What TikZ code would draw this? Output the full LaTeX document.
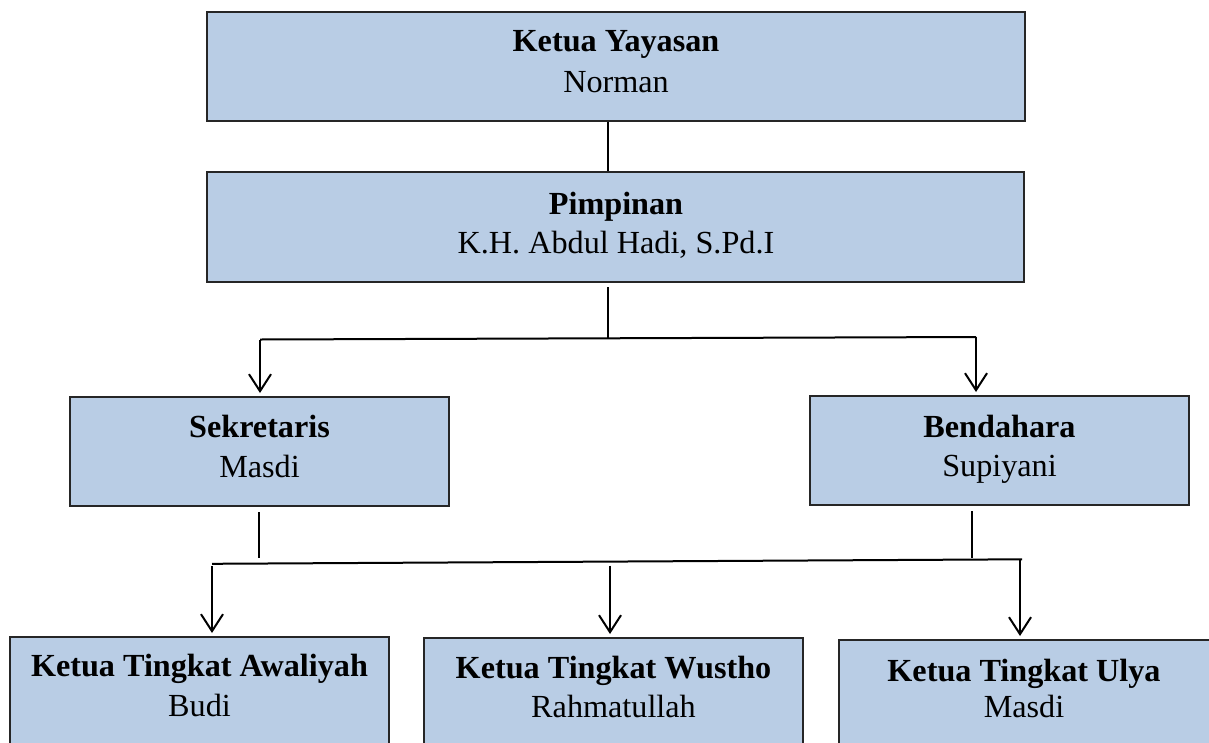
\documentclass[tikz,border=0pt]{standalone}
\usepackage{fontspec}
\setmainfont{Liberation Serif}
\usetikzlibrary{arrows.meta,calc}
\definecolor{boxfill}{HTML}{B9CDE5}
\definecolor{boxline}{HTML}{262626}
\tikzset{
  orgbox/.style={draw=boxline, fill=boxfill, line width=2pt, rectangle, inner sep=0pt,
    minimum width=379pt, minimum height=109pt},
  wide/.style={minimum width=818pt},
  ttl/.style={font=\fontsize{32.2}{38}\selectfont\bfseries, anchor=base, inner sep=0pt},
  nm/.style={font=\fontsize{32.2}{38}\selectfont, anchor=base, inner sep=0pt},
  conn/.style={draw=black, line width=2pt},
  arr/.style={conn, -{Straight Barb[length=17pt,width=22pt,line width=2pt]}, shorten >=3pt}
}
\begin{document}
\begin{tikzpicture}[x=1pt,y=-1pt]
\useasboundingbox (0,0) rectangle (1209,742);
\clip (0,0) rectangle (1209,742);
% boxes
\node[orgbox, wide] (ketua) at (616,66.5) {};
\node[orgbox, minimum width=817pt, minimum height=110pt] (pimp) at (615.5,227) {};
\node[orgbox] (sekr) at (259.5,451.5) {};
\node[orgbox] (bend) at (999.5,450.5) {};
\node[orgbox] (awal) at (199.5,691.5) {};
\node[orgbox] (wust) at (613.5,692.5) {};
\node[orgbox] (ulya) at (1028.5,694.5) {};
% texts
\node[ttl] (ketua-t) at (616,51) {Ketua Yayasan};
\node[nm]  (ketua-n) at (616,92.5) {Norman};
\node[ttl] (pimp-t) at (616,214) {Pimpinan};
\node[nm]  (pimp-n) at (616,253.5) {K.H. Abdul Hadi, S.Pd.I};
\node[ttl] (sekr-t) at (259.5,437.7) {Sekretaris};
\node[nm]  (sekr-n) at (259.5,477) {Masdi};
\node[ttl] (bend-t) at (999.5,437) {Bendahara};
\node[nm]  (bend-n) at (999.5,476.5) {Supiyani};
\node[ttl] (awal-t) at (199.5,676) {Ketua Tingkat Awaliyah};
\node[nm]  (awal-n) at (199.5,716.5) {Budi};
\node[ttl] (wust-t) at (613.5,678) {Ketua Tingkat Wustho};
\node[nm]  (wust-n) at (613.5,717) {Rahmatullah};
\node[ttl] (ulya-t) at (1024,681.5) {Ketua Tingkat Ulya};
\node[nm]  (ulya-n) at (1024,717.5) {Masdi};
% junction coordinates
\coordinate (j1) at (608,338.2);
\coordinate (h1L) at (260,339.5);
\coordinate (h1R) at (976,337);
\coordinate (js) at (259,563.5);
\coordinate (jb) at (972,559.8);
\coordinate (h2L) at (212,563.8);
\coordinate (h2R) at (1022,559.3);
\coordinate (h2M) at (610,565.5);
% connectors
\draw[conn] (ketua.south -| j1) -- (pimp.north -| j1);
\draw[conn, shorten <=4pt] (pimp.south -| j1) -- (j1);
\draw[conn] (h1L) -- (h1R);
\draw[arr] (h1L) -- (sekr.north -| h1L);
\draw[arr] (h1R) -- (bend.north -| h1R);
\draw[conn, shorten <=5pt] (sekr.south -| js) -- ($(js)+(0,-6)$);
\draw[conn, shorten <=5pt] (bend.south -| jb) -- ($(jb)+(0,-2)$);
\draw[conn] (h2L) -- (h2R);
\draw[arr, shorten <=2pt] (h2L) -- (awal.north -| h2L);
\draw[arr] (h2M) -- (wust.north -| h2M);
\draw[arr] ($(h2R)+(-2,0)$) -- (ulya.north -| 1020,0);
\end{tikzpicture}
\end{document}
